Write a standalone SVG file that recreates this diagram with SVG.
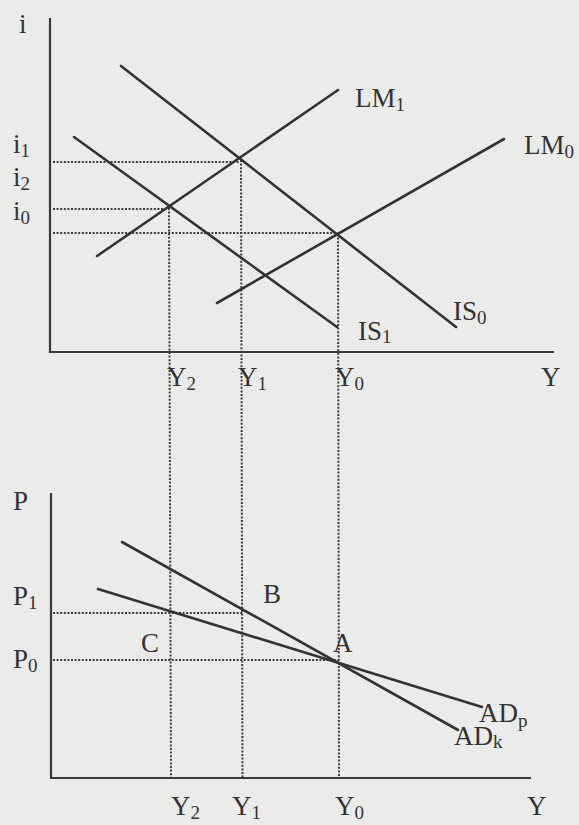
<svg xmlns="http://www.w3.org/2000/svg" width="579" height="825" viewBox="0 0 579 825">
<style>
.bg{fill:#ebebe9}
.ax{stroke:#3a3a3a;stroke-width:2.2;fill:none}
.cv{stroke:#333;stroke-width:2.6;fill:none;stroke-linecap:round}
.dt{stroke:#3c3c3c;stroke-width:2;fill:none;stroke-dasharray:2 1.6}
text{font-family:"Liberation Serif","Times New Roman",serif;font-size:27px;fill:#333}
.sb{font-size:19px}
</style>
<rect class="bg" x="0" y="0" width="579" height="825"/>
<g id="connectors">
<line class="dt" x1="169" y1="208" x2="171" y2="778"/>
<line class="dt" x1="241" y1="160" x2="242.5" y2="778"/>
<line class="dt" x1="338" y1="234" x2="339" y2="778"/>
<line class="dt" x1="53" y1="162" x2="240" y2="162"/>
<line class="dt" x1="53" y1="209" x2="169" y2="209"/>
<line class="dt" x1="53" y1="233" x2="338" y2="233"/>
<line class="dt" x1="53" y1="613" x2="242" y2="613"/>
<line class="dt" x1="53" y1="660" x2="339" y2="660"/>
</g>
<g id="top-axes">
<polyline class="ax" points="50,18 50,352 554,352"/>
<text x="19" y="33">i</text>
<text x="13" y="153">i<tspan class="sb" dy="4">1</tspan></text>
<text x="13" y="186">i<tspan class="sb" dy="4">2</tspan></text>
<text x="13" y="220">i<tspan class="sb" dy="4">0</tspan></text>
<text x="167" y="386">Y<tspan class="sb" dy="4">2</tspan></text>
<text x="238" y="386">Y<tspan class="sb" dy="4">1</tspan></text>
<text x="335" y="386">Y<tspan class="sb" dy="4">0</tspan></text>
<text x="541" y="386">Y</text>
</g>
<g id="LM1">
<line class="cv" x1="97" y1="256" x2="338" y2="90"/>
<text x="355" y="107">LM<tspan class="sb" dy="4">1</tspan></text>
</g>
<g id="LM0">
<line class="cv" x1="217" y1="303" x2="504" y2="139"/>
<text x="524" y="154">LM<tspan class="sb" dy="4">0</tspan></text>
</g>
<g id="IS0">
<line class="cv" x1="121" y1="66" x2="456" y2="327"/>
<text x="453" y="320">IS<tspan class="sb" dy="4">0</tspan></text>
</g>
<g id="IS1">
<line class="cv" x1="74" y1="137" x2="337" y2="327"/>
<text x="358" y="340">IS<tspan class="sb" dy="3">1</tspan></text>
</g>
<g id="bottom-axes">
<polyline class="ax" points="51,493 51,778 531,778"/>
<text x="13" y="510">P</text>
<text x="13" y="605">P<tspan class="sb" dy="4">1</tspan></text>
<text x="13" y="668">P<tspan class="sb" dy="4">0</tspan></text>
<text x="171" y="815">Y<tspan class="sb" dy="4">2</tspan></text>
<text x="232" y="815">Y<tspan class="sb" dy="4">1</tspan></text>
<text x="335" y="815">Y<tspan class="sb" dy="4">0</tspan></text>
<text x="527" y="815">Y</text>
</g>
<g id="ADk">
<line class="cv" x1="122" y1="542" x2="458" y2="730"/>
<text x="454" y="745">AD<tspan class="sb" dy="3">k</tspan></text>
</g>
<g id="ADp">
<line class="cv" x1="98" y1="589" x2="482" y2="707"/>
<text x="479" y="722">AD<tspan class="sb" dy="5">p</tspan></text>
</g>
<g id="point-A"><text x="333" y="652">A</text></g>
<g id="point-B"><text x="263" y="603">B</text></g>
<g id="point-C"><text x="141" y="652">C</text></g>
</svg>
